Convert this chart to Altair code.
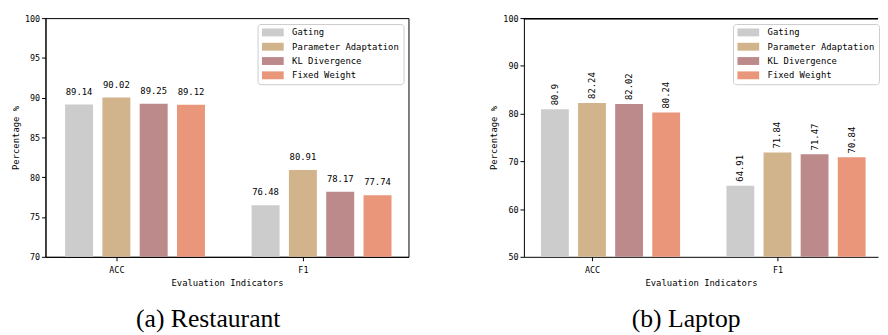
import altair as alt
import pandas as pd

series = ["Gating", "Parameter Adaptation", "KL Divergence", "Fixed Weight"]
indicators = ["ACC", "F1"]
colors = ["#cccccc", "#d2b48c", "#bc8a8a", "#e9967a"]

restaurant_acc = [89.14, 90.02, 89.25, 89.12]
restaurant_f1 = [76.48, 80.91, 78.17, 77.74]
laptop_acc = [80.9, 82.24, 82.02, 80.24]
laptop_f1 = [64.91, 71.84, 71.47, 70.84]

restaurant_ticks = [70, 75, 80, 85, 90, 95, 100]
laptop_ticks = [50, 60, 70, 80, 90, 100]

MONO = "DejaVu Sans Mono"
SERIF = "Liberation Serif"


def make_df(acc, f1):
    rows = []
    for g, vals in enumerate([acc, f1]):
        for i, v in enumerate(vals):
            rows.append({"g": g, "i": i, "series": series[i], "value": v, "label": str(v)})
    return pd.DataFrame(rows)


label_expr = "datum.value == 0 ? '%s' : '%s'" % (indicators[0], indicators[1])


def panel(df, ymin, ticks, caption, rotated, cap_dx, xdom, width, legx, framed):
    base = alt.Chart(df).transform_calculate(
        c="datum.g + (datum.i - 1) * 0.2",
        x0="datum.g + (datum.i - 1) * 0.2 - 0.075",
        x1="datum.g + (datum.i - 1) * 0.2 + 0.075",
    )
    xscale = alt.Scale(domain=xdom, nice=False, zero=False)
    yscale = alt.Scale(domain=[ymin, 100], nice=False, zero=False)
    bars = base.mark_rect().encode(
        x=alt.X("x0:Q", scale=xscale,
                axis=alt.Axis(values=[0, 1], labelExpr=label_expr,
                              title="Evaluation Indicators")),
        x2="x1:Q",
        y=alt.Y("value:Q", scale=yscale,
                axis=alt.Axis(values=ticks, title="Percentage %")),
        y2=alt.datum(ymin),
        color=alt.Color(
            "series:N",
            scale=alt.Scale(domain=series, range=colors),
            legend=alt.Legend(title=None, orient="none", legendX=legx, legendY=6),
        ),
    )
    if rotated:
        txt = base.mark_text(angle=270, align="left", baseline="middle", dx=4,
                             font=MONO, fontSize=9, color="black")
    else:
        txt = base.mark_text(align="center", baseline="bottom", dy=-8,
                             font=MONO, fontSize=9, color="black")
    labels = txt.encode(x="c:Q", y="value:Q", text="label:N")
    layers = [bars, labels]
    if not framed:
        top = alt.Chart(df).mark_rule(color="black", strokeWidth=1, yOffset=0.5).encode(
            y=alt.datum(100)
        )
        layers.append(top)
    view = alt.ViewConfig(stroke="black" if framed else "transparent")
    return alt.layer(*layers).properties(
        width=width, height=242, view=view,
        title=alt.TitleParams(caption, orient="bottom", font=SERIF, fontSize=26,
                              fontWeight="normal", color="black", offset=19, dx=cap_dx),
    )


left = panel(make_df(restaurant_acc, restaurant_f1), 70, restaurant_ticks,
             "(a) Restaurant", False, -19, [-0.38, 1.566], 368, 215, True)
right = panel(make_df(laptop_acc, laptop_f1), 50, laptop_ticks,
              "(b) Laptop", True, -15, [-0.367, 1.542], 359, 212, False)

chart = alt.hconcat(left, right, spacing=81).resolve_legend(color="independent").properties(
    padding={"left": 3, "top": 3, "right": 0, "bottom": 0}
).configure_view(
    stroke="black", strokeWidth=1
).configure_axis(
    grid=False, domainColor="black", tickColor="black", labelColor="black",
    labelFont=MONO, labelFontSize=8.5, titleFont=MONO, titleFontSize=9,
    titleFontWeight="normal", titleColor="black", tickSize=4, labelPadding=2,
    domainWidth=1,
).configure_axisY(
    titlePadding=4
).configure_axisX(
    titlePadding=5, labelPadding=5
).configure_legend(
    labelFont=MONO, labelFontSize=9, labelColor="black",
    symbolType="M-1,-1L4.5,-1L4.5,1L-1,1Z", symbolSize=64,
    symbolStrokeWidth=0, padding=4, rowPadding=4.5, labelOffset=22,
    fillColor="white", strokeColor="#cccccc", cornerRadius=3,
)

chart.save("out.html", embed_options={"renderer": "svg", "actions": False})
